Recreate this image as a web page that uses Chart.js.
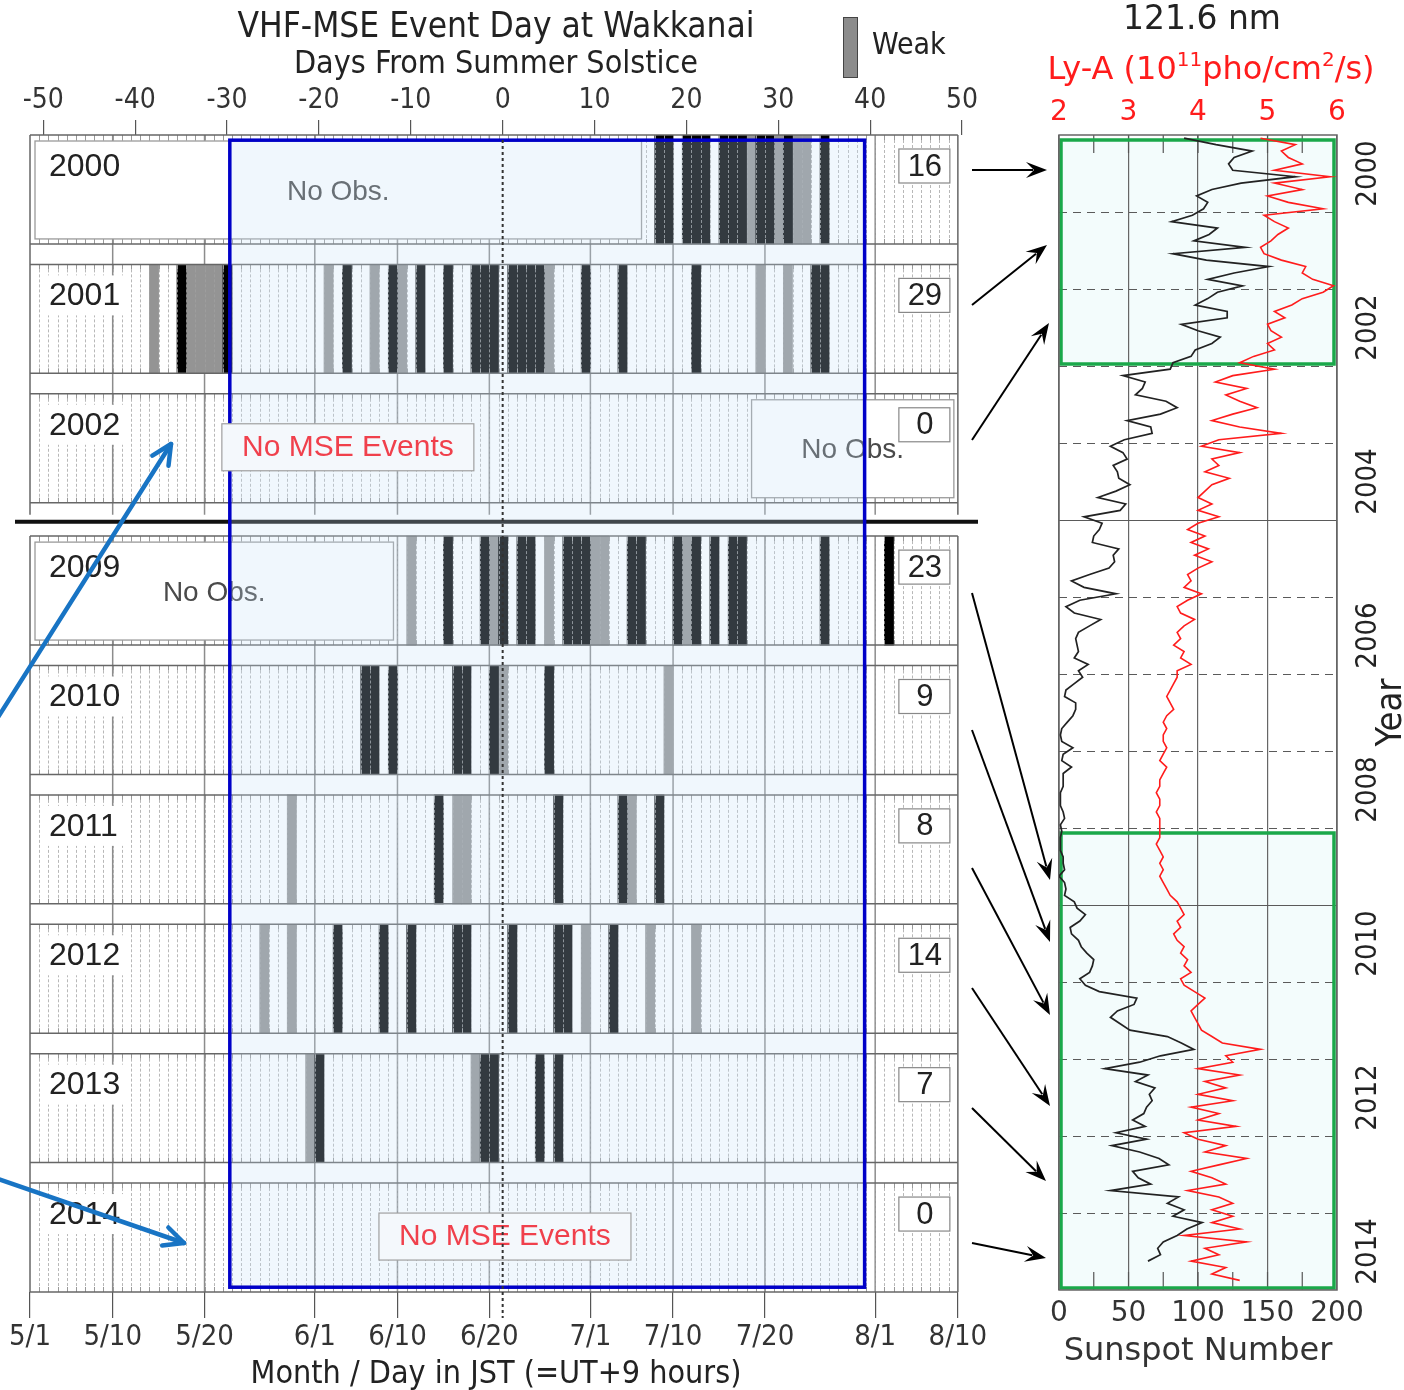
<!DOCTYPE html>
<html>
<head>
<meta charset="utf-8">
<script src="https://cdn.jsdelivr.net/npm/chart.js@4.4.1/dist/chart.umd.min.js"></script>
<style>
  html, body { margin: 0; padding: 0; background: #fff; }
  #wrap { position: relative; width: 1404px; height: 1390px; overflow: hidden; }
  #left { position: absolute; left: 0; top: 0; width: 1000px; height: 1390px; }
  #right { position: absolute; left: 1000px; top: 0; width: 404px; height: 1390px; }
  #arrows { position: absolute; left: 0; top: 0; pointer-events: none; }
</style>
</head>
<body>
<div id="wrap">
  <div id="left"><canvas id="eventChart"></canvas></div>
  <div id="right"><canvas id="solarChart"></canvas></div>
  <canvas id="arrows" width="1404" height="1390"></canvas>
</div>
<script>
// ---- event days (day 0 = 6/21 JST), strong = black, weak = gray ----
const years = [2000, 2001, 2002, 2009, 2010, 2011, 2012, 2013, 2014];
const eventCounts = [16, 29, 0, 23, 9, 8, 14, 7, 0];

const strong2000 = [17, 18, 20, 21, 22, 24, 25, 26, 28, 29, 31, 35];
const weak2000 = [27, 30, 32, 33];
const strong2001 = [-35, -30, -17, -12, -9, -6, -3, -2, -1, 1, 2, 3, 4, 9, 13, 21, 34, 35];
const weak2001 = [-38, -34, -33, -32, -31, -19, -14, -11, 5, 28, 31];
const strong2002 = [];
const weak2002 = [];
const strong2009 = [-6, -2, 0, 2, 3, 7, 8, 9, 14, 15, 19, 21, 23, 25, 26, 35, 42];
const weak2009 = [-10, -1, 5, 10, 11, 20];
const strong2010 = [-15, -14, -12, -5, -4, -1, 5];
const weak2010 = [0, 18];
const strong2011 = [-7, 6, 13, 17];
const weak2011 = [-23, -5, -4, 14];
const strong2012 = [-18, -13, -10, -5, -4, 1, 6, 7, 12];
const weak2012 = [-26, -23, 9, 16, 21];
const strong2013 = [-20, -2, -1, 4, 6];
const weak2013 = [-21, -3];
const strong2014 = [];
const weak2014 = [];

// periods without observation [first day, last day]
const noObs2000 = [-51, 16];
const noObs2002 = [27, 50];
const noObs2009 = [-51, -11];

const dateTickDays = [-51, -42, -32, -20, -11, -1, 10, 19, 29, 41, 50];
const dateTickLabels = ['5/1', '5/10', '5/20', '6/1', '6/10', '6/20', '7/1', '7/10', '7/20', '8/1', '8/10'];
const solsticeTicks = [-50, -40, -30, -20, -10, 0, 10, 20, 30, 40, 50];

// ---- monthly sunspot number ----
const ssn2000 = [90, 113, 139, 126, 122, 125, 170, 131, 110, 99, 107, 104];
const ssn2001 = [96, 81, 114, 108, 97, 134, 82, 106, 151, 126, 107, 132];
const ssn2002 = [114, 107, 98, 121, 121, 88, 100, 116, 110, 98, 95, 82];
const ssn2003 = [80, 46, 62, 60, 55, 77, 85, 73, 49, 66, 67, 47];
const ssn2004 = [37, 46, 49, 39, 42, 43, 51, 41, 28, 48, 44, 18];
const ssn2005 = [31, 29, 25, 24, 43, 39, 40, 36, 22, 9, 18, 41];
const ssn2006 = [15, 5, 11, 30, 22, 14, 12, 13, 14, 11, 21, 14];
const ssn2007 = [17, 11, 5, 4, 12, 12, 10, 6, 2, 1, 2, 10];
const ssn2008 = [3, 2, 9, 3, 3, 3, 1, 1, 1, 3, 4, 1];
const ssn2009 = [2, 1, 1, 1, 3, 3, 4, 0, 4, 5, 4, 11];
const ssn2010 = [13, 19, 15, 8, 9, 14, 16, 20, 25, 24, 22, 15];
const ssn2011 = [19, 29, 56, 54, 42, 37, 44, 51, 78, 88, 97, 73];
const ssn2012 = [58, 33, 64, 55, 69, 65, 67, 63, 61, 53, 62, 41];
const ssn2013 = [63, 38, 58, 72, 79, 53, 57, 66, 37, 86, 78, 90];
const ssn2014 = [82, 103, 92, 85, 75, 71, 73, 64];

// ---- monthly Lyman-alpha, 10^11 photons/cm2/s ----
const lya2000 = [4.9, 5.4, 5.2, 5.3, 5.5, 5.1, 5.9, 5.1, 5.5, 5.0, 5.3, 5.8];
const lya2001 = [4.95, 5.1, 5.3, 5.15, 5.05, 4.9, 4.95, 5.2, 5.55, 5.5, 5.65, 5.95];
const lya2002 = [5.8, 5.5, 5.35, 5.1, 5.25, 5.0, 5.05, 5.2, 5.0, 5.1, 4.8, 4.6];
const lya2003 = [5.1, 4.5, 4.25, 4.7, 4.4, 4.6, 4.85, 4.5, 4.2, 4.6, 5.2, 4.3];
const lya2004 = [4.05, 4.6, 4.2, 4.3, 4.1, 4.45, 4.2, 4.1, 4.0, 4.2, 4.0, 4.3];
const lya2005 = [4.0, 3.85, 4.1, 3.9, 4.15, 3.95, 4.2, 4.0, 3.85, 3.9, 3.8, 4.05];
const lya2006 = [3.85, 3.7, 3.75, 3.95, 3.8, 3.7, 3.75, 3.65, 3.8, 3.75, 3.9, 3.7];
const lya2007 = [3.7, 3.65, 3.6, 3.55, 3.6, 3.65, 3.55, 3.5, 3.55, 3.5, 3.5, 3.55];
const lya2008 = [3.5, 3.45, 3.55, 3.5, 3.45, 3.45, 3.4, 3.45, 3.45, 3.4, 3.45, 3.45];
const lya2009 = [3.45, 3.45, 3.4, 3.45, 3.5, 3.45, 3.5, 3.45, 3.5, 3.55, 3.6, 3.7];
const lya2010 = [3.75, 3.8, 3.7, 3.75, 3.65, 3.7, 3.8, 3.75, 3.85, 3.8, 3.9, 3.75];
const lya2011 = [3.8, 3.95, 4.1, 4.0, 3.9, 3.95, 4.0, 4.05, 4.2, 4.35, 4.9, 4.4];
const lya2012 = [4.5, 4.0, 4.6, 4.1, 4.4, 4.0, 4.5, 3.9, 4.3, 4.0, 4.55, 3.8];
const lya2013 = [4.0, 4.4, 4.1, 4.7, 4.3, 3.9, 4.2, 4.4, 3.85, 4.3, 4.5, 4.2];
const lya2014 = [4.5, 4.2, 4.6, 3.8, 4.7, 4.1, 4.3, 3.9, 4.4, 4.2, 4.6];

// ---- layout ----
const NARROW = "'Liberation Sans Narrow', 'Arial Narrow', 'DejaVu Sans Condensed', sans-serif";
const SANS = "'Liberation Sans', Arial, sans-serif";
const WIDE = "'DejaVu Sans', Verdana, sans-serif";
const ROW_SLOTS = [0, 1, 2, 3.1, 4.1, 5.1, 6.1, 7.1, 8.1];
const ROW_H = 0.842;
const PANELS = [[0, 2], [3, 8]];
const SOLSTICE = 0.45;
const FOCUS = { d0: -29.25, d1: 39.85, s0: 0.04, s1: 8.905 };
const LYA_RED = '#ff1c1c';

const strongByRow = [strong2000, strong2001, strong2002, strong2009, strong2010, strong2011, strong2012, strong2013, strong2014];
const weakByRow = [weak2000, weak2001, weak2002, weak2009, weak2010, weak2011, weak2012, weak2013, weak2014];
const noObsBoxes = [[0, noObs2000], [2, noObs2002], [3, noObs2009]];
const mseBoxes = [[2, -16.4], [8, 0.7]];

function barPoints(lists) {
  const pts = [];
  lists.forEach((days, i) => days.forEach(d => pts.push({ x: d + 0.5, y: [ROW_SLOTS[i], ROW_SLOTS[i] + ROW_H] })));
  return pts;
}

function vLine(ctx, x, y0, y1) { ctx.beginPath(); ctx.moveTo(x, y0); ctx.lineTo(x, y1); ctx.stroke(); }
function hLine(ctx, x0, x1, y) { ctx.beginPath(); ctx.moveTo(x0, y); ctx.lineTo(x1, y); ctx.stroke(); }

const eventDecor = {
  id: 'eventDecor',
  beforeDatasetsDraw(chart) {
    const { ctx, scales: { x, y } } = chart;
    const L = x.getPixelForValue(-51), R = x.getPixelForValue(50);
    ctx.save();
    PANELS.forEach(([r0, r1], p) => {
      const top = y.getPixelForValue(ROW_SLOTS[r0]);
      const bot = y.getPixelForValue(ROW_SLOTS[r1] + ROW_H) + (p === 0 ? 12 : 0);
      ctx.strokeStyle = '#8c8c8c'; ctx.lineWidth = 1.5;
      dateTickDays.slice(1, -1).forEach(d => vLine(ctx, x.getPixelForValue(d), top, bot));
      ctx.strokeStyle = '#666';
      vLine(ctx, L, top, bot); vLine(ctx, R, top, bot);
    });
    ctx.restore();
  },
  afterDatasetsDraw(chart) {
    const { ctx, chartArea: a, scales: { x, y } } = chart;
    const L = x.getPixelForValue(-51), R = x.getPixelForValue(50);
    ctx.save();

    // daily dotted lines and row frames
    ROW_SLOTS.forEach(s => {
      const t = y.getPixelForValue(s), b = y.getPixelForValue(s + ROW_H);
      ctx.lineWidth = 1;
      ctx.setLineDash([3, 2]);
      ctx.strokeStyle = 'rgba(160,160,160,0.75)';
      for (let d = -50; d < 50; d++) vLine(ctx, Math.round(x.getPixelForValue(d)) + 0.5, t, b);
      ctx.setLineDash([]);
      ctx.strokeStyle = '#999';
      for (let d = -50; d < 50; d++) {
        const px = Math.round(x.getPixelForValue(d)) + 0.5;
        vLine(ctx, px, t, t + 5); vLine(ctx, px, b - 5, b);
      }
      ctx.strokeStyle = '#666'; ctx.lineWidth = 1.5;
      hLine(ctx, L, R, t); hLine(ctx, L, R, b);
    });

    // no observation boxes
    noObsBoxes.forEach(([row, [d0, d1]]) => {
      const t = y.getPixelForValue(ROW_SLOTS[row]) + 6, b = y.getPixelForValue(ROW_SLOTS[row] + ROW_H) - 5;
      const x0 = x.getPixelForValue(d0) + 5, x1 = x.getPixelForValue(d1) - 4;
      ctx.fillStyle = '#fff'; ctx.fillRect(x0, t, x1 - x0, b - t);
      ctx.strokeStyle = '#9a9a9a'; ctx.lineWidth = 1.3; ctx.strokeRect(x0, t, x1 - x0, b - t);
      ctx.fillStyle = '#4a4a4a'; ctx.font = '28px ' + SANS;
      ctx.textAlign = 'center'; ctx.textBaseline = 'middle';
      ctx.fillText('No Obs.', (x0 + x1) / 2, (t + b) / 2 + 2);
    });

    // year labels
    years.forEach((yr, i) => {
      const t = y.getPixelForValue(ROW_SLOTS[i]);
      ctx.fillStyle = '#fff'; ctx.fillRect(L + 14, t + 11, 82, 40);
      ctx.fillStyle = '#222'; ctx.font = '32px ' + SANS;
      ctx.textAlign = 'left'; ctx.textBaseline = 'middle';
      ctx.fillText(String(yr), L + 19, t + 32);
    });

    // separator between the two observation periods
    ctx.strokeStyle = '#111'; ctx.lineWidth = 4;
    hLine(ctx, a.left - 15, a.right + 16, y.getPixelForValue(2.99));

    // highlighted window
    const fx0 = x.getPixelForValue(FOCUS.d0), fx1 = x.getPixelForValue(FOCUS.d1);
    const fy0 = y.getPixelForValue(FOCUS.s0), fy1 = y.getPixelForValue(FOCUS.s1);
    ctx.fillStyle = 'rgba(196,223,246,0.26)';
    ctx.fillRect(fx0, fy0, fx1 - fx0, fy1 - fy0);
    ctx.strokeStyle = '#0000c8'; ctx.lineWidth = 3.5;
    ctx.strokeRect(fx0, fy0, fx1 - fx0, fy1 - fy0);

    // event counts
    eventCounts.forEach((n, i) => {
      const t = y.getPixelForValue(ROW_SLOTS[i]);
      ctx.fillStyle = '#fff'; ctx.fillRect(R - 59, t + 14, 51, 34);
      ctx.strokeStyle = '#888'; ctx.lineWidth = 1.2; ctx.strokeRect(R - 59, t + 14, 51, 34);
      ctx.fillStyle = '#222'; ctx.font = '31px ' + SANS;
      ctx.textAlign = 'center'; ctx.textBaseline = 'middle';
      ctx.fillText(String(n), R - 33, t + 32);
    });

    // no MSE events notes
    mseBoxes.forEach(([row, d]) => {
      const cx = x.getPixelForValue(d), cy = y.getPixelForValue(ROW_SLOTS[row]) + 53;
      ctx.fillStyle = '#f4f8fc'; ctx.fillRect(cx - 126, cy - 23, 252, 47);
      ctx.strokeStyle = '#a0a0a0'; ctx.lineWidth = 1.2; ctx.strokeRect(cx - 126, cy - 23, 252, 47);
      ctx.fillStyle = '#f0404c'; ctx.font = '30px ' + SANS;
      ctx.textAlign = 'center'; ctx.textBaseline = 'middle';
      ctx.fillText('No MSE Events', cx, cy + 1);
    });

    // summer solstice
    ctx.strokeStyle = '#333'; ctx.lineWidth = 2; ctx.setLineDash([3, 3]);
    vLine(ctx, x.getPixelForValue(SOLSTICE), a.top + 5, a.bottom + 26);
    ctx.setLineDash([]);

    // legend
    ctx.fillStyle = '#8c8c8c'; ctx.fillRect(843, 17, 14, 60);
    ctx.strokeStyle = '#444'; ctx.lineWidth = 1; ctx.strokeRect(843.5, 17.5, 14, 60);
    ctx.fillStyle = '#222'; ctx.font = '30px ' + NARROW;
    ctx.textAlign = 'left'; ctx.textBaseline = 'middle';
    ctx.fillText('Weak', 872, 46);
    ctx.restore();
  }
};

new Chart(document.getElementById('eventChart'), {
  type: 'bar',
  data: {
    datasets: [
      { label: 'Strong', data: barPoints(strongByRow), backgroundColor: '#000' },
      { label: 'Weak', data: barPoints(weakByRow), backgroundColor: '#949494' }
    ]
  },
  options: {
    responsive: true,
    maintainAspectRatio: false,
    animation: false,
    layout: { padding: { left: 30, right: 38, top: 0, bottom: 0 } },
    datasets: { bar: { barThickness: 9.19, grouped: false, borderWidth: 0, borderSkipped: false } },
    plugins: {
      legend: { display: false },
      tooltip: { enabled: false },
      title: {
        display: true, text: 'VHF-MSE Event Day at Wakkanai', color: '#222',
        font: { family: NARROW, size: 35, weight: 'normal', lineHeight: 1 },
        padding: { top: 10, bottom: 0 }
      }
    },
    scales: {
      x: {
        type: 'linear', position: 'bottom', min: -51, max: 50.45, offset: false,
        afterBuildTicks: (axis) => { axis.ticks = dateTickDays.map(v => ({ value: v })); },
        ticks: {
          callback: (v, i) => dateTickLabels[i], autoSkip: false, maxRotation: 0, minRotation: 0,
          color: '#333', padding: 5, font: { family: NARROW, size: 29, lineHeight: 1 }
        },
        grid: { offset: false, drawOnChartArea: false, drawTicks: true, tickLength: 26, color: '#555', lineWidth: 1.2 },
        border: { display: false },
        title: {
          display: true, text: 'Month / Day in JST (=UT+9 hours)', color: '#222',
          font: { family: NARROW, size: 32, lineHeight: 1 }, padding: { top: 0, bottom: -1 }
        },
        afterFit: (axis) => { axis.height = 98; }
      },
      x2: {
        type: 'linear', position: 'top', min: -51 - SOLSTICE, max: 50.45 - SOLSTICE, offset: false,
        afterBuildTicks: (axis) => { axis.ticks = solsticeTicks.map(v => ({ value: v })); },
        ticks: {
          callback: (v) => String(v), autoSkip: false, maxRotation: 0, minRotation: 0,
          color: '#333', padding: 5, font: { family: NARROW, size: 28, lineHeight: 1 }
        },
        grid: { offset: false, drawOnChartArea: false, drawTicks: true, tickLength: 15, color: '#555', lineWidth: 1.2 },
        border: { display: false },
        title: {
          display: true, text: 'Days From Summer Solstice', color: '#222',
          font: { family: NARROW, size: 32, lineHeight: 1 }, padding: { top: 4, bottom: 0 }
        },
        afterFit: (axis) => { axis.height = 90; }
      },
      y: { type: 'linear', min: 0, max: 8.942, reverse: true, display: false }
    }
  },
  plugins: [eventDecor]
});

// ---- right panel: sunspot number and Lyman-alpha ----
const ssnByYear = [ssn2000, ssn2001, ssn2002, ssn2003, ssn2004, ssn2005, ssn2006, ssn2007, ssn2008, ssn2009, ssn2010, ssn2011, ssn2012, ssn2013, ssn2014];
const lyaByYear = [lya2000, lya2001, lya2002, lya2003, lya2004, lya2005, lya2006, lya2007, lya2008, lya2009, lya2010, lya2011, lya2012, lya2013, lya2014];
const greenBoxes = [[2000, 2003], [2009, 2015]];
const yearLabels = [2000, 2002, 2004, 2006, 2008, 2010, 2012, 2014];
// axis title pieces: [text, superscript?]
const lyaTitle = [['Ly-A (10', false], ['11', true], ['pho/cm', false], ['2', true], ['/s)', false]];

function monthlyPoints(list) {
  const pts = [];
  list.forEach((vals, k) => vals.forEach((v, m) => pts.push({ x: v, y: 2000 + k + (m + 0.5) / 12 })));
  return pts;
}

const solarDecor = {
  id: 'solarDecor',
  beforeDraw(chart) {
    const { ctx, chartArea: a, scales: { y } } = chart;
    ctx.save();
    ctx.fillStyle = '#f3fcfc';
    greenBoxes.forEach(([t0, t1]) => {
      const y0 = y.getPixelForValue(t0) + 5, y1 = y.getPixelForValue(t1) - 2;
      ctx.fillRect(a.left + 2, y0, a.width - 5, y1 - y0);
    });
    ctx.restore();
  },
  beforeDatasetsDraw(chart) {
    const { ctx, chartArea: a, scales: { x, y } } = chart;
    ctx.save();
    ctx.lineWidth = 1.2;
    for (let yr = 2001; yr <= 2014; yr++) {
      const py = Math.round(y.getPixelForValue(yr)) + 0.5;
      ctx.strokeStyle = '#5a5a5a';
      ctx.setLineDash(yr % 5 === 0 ? [] : [8, 6]);
      hLine(ctx, a.left, a.right, py);
    }
    ctx.setLineDash([]);
    ctx.strokeStyle = '#555';
    [25, 75, 125, 175, 50, 100, 150].forEach(v => {
      const px = x.getPixelForValue(v);
      vLine(ctx, px, a.top, a.top + 18); vLine(ctx, px, a.bottom - 18, a.bottom);
    });
    ctx.strokeStyle = '#1aa84a'; ctx.lineWidth = 3.5;
    greenBoxes.forEach(([t0, t1]) => {
      const y0 = y.getPixelForValue(t0) + 5, y1 = y.getPixelForValue(t1) - 2;
      ctx.strokeRect(a.left + 2, y0, a.width - 5, y1 - y0);
    });
    ctx.strokeStyle = '#666'; ctx.lineWidth = 1.5;
    ctx.strokeRect(a.left, a.top, a.width, a.height);
    ctx.restore();
  },
  afterDraw(chart) {
    const { ctx, chartArea: a, scales: { y } } = chart;
    ctx.save();
    // Ly-A axis title with superscripts
    ctx.fillStyle = LYA_RED; ctx.textBaseline = 'alphabetic'; ctx.textAlign = 'left';
    const big = '32px ' + WIDE, small = '20px ' + WIDE;
    let total = 0;
    lyaTitle.forEach(([s, sup]) => { ctx.font = sup ? small : big; total += ctx.measureText(s).width; });
    let px = (a.left + a.right) / 2 + 13 - total / 2;
    lyaTitle.forEach(([s, sup]) => {
      ctx.font = sup ? small : big;
      ctx.fillText(s, px, sup ? 66 : 79);
      px += ctx.measureText(s).width;
    });

    ctx.fillStyle = '#222';
    ctx.textAlign = 'center'; ctx.textBaseline = 'middle';
    ctx.font = '29px ' + NARROW;
    yearLabels.forEach(yr => {
      ctx.save();
      ctx.translate(a.right + 31, y.getPixelForValue(yr + 0.5));
      ctx.rotate(-Math.PI / 2);
      ctx.fillText(String(yr), 0, 0);
      ctx.restore();
    });
    ctx.font = '36px ' + NARROW;
    ctx.translate(a.right + 55, y.getPixelForValue(2007.5));
    ctx.rotate(-Math.PI / 2);
    ctx.fillText('Year', 0, 0);
    ctx.restore();
  }
};

new Chart(document.getElementById('solarChart'), {
  type: 'scatter',
  data: {
    datasets: [
      { label: 'Sunspot Number', data: monthlyPoints(ssnByYear), xAxisID: 'x', yAxisID: 'y',
        showLine: true, borderColor: '#222', borderWidth: 1.7, pointRadius: 0, tension: 0 },
      { label: 'Ly-A', data: monthlyPoints(lyaByYear), xAxisID: 'x2', yAxisID: 'y',
        showLine: true, borderColor: LYA_RED, borderWidth: 1.6, pointRadius: 0, tension: 0 }
    ]
  },
  options: {
    responsive: true,
    maintainAspectRatio: false,
    animation: false,
    layout: { padding: 0 },
    plugins: {
      legend: { display: false },
      tooltip: { enabled: false },
      title: {
        display: true, text: '121.6 nm', color: '#222',
        font: { family: WIDE, size: 33, weight: 'normal', lineHeight: 1 },
        padding: { top: 4, bottom: 0 }
      }
    },
    scales: {
      x: {
        type: 'linear', position: 'bottom', min: 0, max: 200,
        ticks: { stepSize: 50, maxRotation: 0, color: '#333', padding: 10, font: { family: WIDE, size: 28, lineHeight: 1 } },
        grid: { color: '#666', lineWidth: 1.2, drawTicks: false },
        border: { display: false },
        title: { display: true, text: 'Sunspot Number', color: '#333',
          font: { family: WIDE, size: 32, lineHeight: 1 }, padding: { top: 0, bottom: 22 } },
        afterFit: (axis) => { axis.height = 100; }
      },
      x2: {
        type: 'linear', position: 'top', min: 2, max: 6,
        ticks: { stepSize: 1, maxRotation: 0, color: LYA_RED, padding: 0, font: { family: WIDE, size: 28, lineHeight: 1 } },
        grid: { display: false },
        border: { display: false },
        afterFit: (axis) => { axis.height = 98; }
      },
      y: {
        type: 'linear', position: 'right', min: 2000, max: 2015, reverse: true,
        ticks: { display: false }, grid: { display: false }, border: { display: false },
        afterFit: (axis) => { axis.width = 67; }
      },
      yl: {
        type: 'linear', position: 'left',
        ticks: { display: false }, grid: { display: false }, border: { display: false },
        afterFit: (axis) => { axis.width = 59; }
      }
    }
  },
  plugins: [solarDecor]
});

// ---- arrows linking the two panels ----
const blackArrows = [
  [972, 170, 1047, 170], [972, 305, 1047, 245], [972, 440, 1049, 323],
  [972, 593, 1050, 880], [972, 730, 1050, 942], [972, 868, 1050, 1015],
  [972, 988, 1050, 1106], [972, 1108, 1046, 1181], [972, 1243, 1046, 1258]
];
const blueArrows = [[-5, 722, 171, 444], [-5, 1178, 184, 1243]];

const actx = document.getElementById('arrows').getContext('2d');
blackArrows.forEach(([x0, y0, x1, y1]) => {
  const ang = Math.atan2(y1 - y0, x1 - x0);
  const bx = x1 - 18 * Math.cos(ang), by = y1 - 18 * Math.sin(ang);
  actx.strokeStyle = '#000'; actx.lineWidth = 2;
  actx.beginPath(); actx.moveTo(x0, y0); actx.lineTo(bx + 4 * Math.cos(ang), by + 4 * Math.sin(ang)); actx.stroke();
  actx.fillStyle = '#000';
  actx.beginPath();
  actx.moveTo(x1, y1);
  actx.lineTo(bx + 8 * Math.sin(ang) - 3 * Math.cos(ang), by - 8 * Math.cos(ang) - 3 * Math.sin(ang));
  actx.lineTo(bx + 5 * Math.cos(ang), by + 5 * Math.sin(ang));
  actx.lineTo(bx - 8 * Math.sin(ang) - 3 * Math.cos(ang), by + 8 * Math.cos(ang) - 3 * Math.sin(ang));
  actx.closePath(); actx.fill();
});
blueArrows.forEach(([x0, y0, x1, y1]) => {
  const ang = Math.atan2(y1 - y0, x1 - x0);
  actx.strokeStyle = '#1874c4'; actx.lineWidth = 4.5; actx.lineCap = 'round'; actx.lineJoin = 'round';
  actx.beginPath(); actx.moveTo(x0, y0); actx.lineTo(x1, y1); actx.stroke();
  actx.beginPath();
  actx.moveTo(x1 - 22 * Math.cos(ang - 0.45), y1 - 22 * Math.sin(ang - 0.45));
  actx.lineTo(x1, y1);
  actx.lineTo(x1 - 22 * Math.cos(ang + 0.45), y1 - 22 * Math.sin(ang + 0.45));
  actx.stroke();
});
</script>
</body>
</html>
